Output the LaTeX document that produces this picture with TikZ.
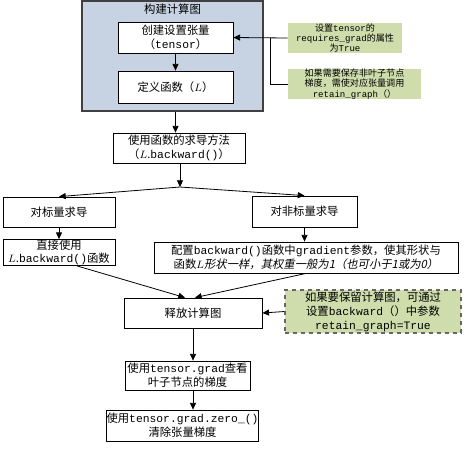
\documentclass[tikz,border=0pt]{standalone}
\usepackage{fontspec}
\setmainfont{Noto Sans CJK SC}
\setmonofont{Liberation Mono}
\newfontfamily\slantcjk[FakeSlant=0.2]{Noto Sans CJK SC}
\usetikzlibrary{arrows.meta, positioning}
\definecolor{groupblue}{RGB}{199,211,227}
\definecolor{notegreen}{RGB}{207,221,172}
\newcommand{\px}{0.75pt}
\newcommand{\code}[1]{\texttt{#1}}

\tikzset{
  stepbox/.style={draw, fill=white, line width=0.6pt, align=center, inner sep=0pt,
    minimum height=30*\px, font=\fontsize{8.5}{10.5}\selectfont},
  notebox/.style={fill=notegreen, align=center, inner sep=0pt, font=\fontsize{6.8}{7.6}\selectfont},
  arr/.style={-{Triangle[length=5pt,width=4.5pt]}, line width=0.6pt},
}

\begin{document}
\begin{tikzpicture}[x=\px, y=-\px]
  \useasboundingbox (0,0) rectangle (470,455);
  % group of the graph
  \node[draw=black!75, line width=0.9pt, fill=groupblue, minimum width=181*\px, minimum height=110*\px] (group) at (172.5,56) {};
  \node[font=\fontsize{8.5}{10}\selectfont] (grouptitle) at (172.5,9) {构建计算图};
  \node[stepbox, minimum width=115*\px, minimum height=31*\px] (create) at (175.5,37.5) {创建设置张量\\（\code{tensor}）};
  \node[stepbox, minimum width=115*\px, minimum height=32*\px] (deffn) at (175.5,87) {定义函数（$L$）};
  % notes
  \node[notebox, minimum width=114*\px, minimum height=30*\px] (note1) at (345,38) {设置\code{tensor}的\\\code{requires\_grad}的属性\\为\code{True}};
  \node[notebox, minimum width=133*\px, minimum height=30*\px] (note2) at (354.5,84) {如果需要保存非叶子节点\\梯度，需使对应张量调用\\\code{retain\_graph}（）};
  \coordinate (joint) at (270,38);
  % steps
  \node[stepbox, minimum width=132*\px] (method) at (179,148) {使用函数的求导方法\\（$L$.\code{backward()}）};
  \coordinate (split) at (180,187);
  \node[stepbox, minimum width=112*\px] (scalar) at (59,212) {对标量求导};
  \node[stepbox, minimum width=105*\px, minimum height=31*\px] (nonscalar) at (304.5,211.5) {对非标量求导};
  \node[stepbox, minimum width=112*\px, minimum height=26*\px, font=\fontsize{8.5}{9.4}\selectfont] (direct) at (59,252.5) {直接使用\\$L$.\code{backward()}函数};
  \node[stepbox, minimum width=304*\px, minimum height=31*\px] (config) at (306,257.5) {配置\code{backward()}函数中\code{gradient}参数，使其形状与\\函数{\slantcjk $L$形状一样，其权重一般为1（也可小于1或为0）}};
  \node[stepbox, minimum width=138*\px] (release) at (193,313) {释放计算图};
  \node[notebox, draw=black!60, dashed, line width=1pt, minimum width=176*\px, minimum height=43*\px,
    font=\fontsize{8.5}{10.5}\selectfont] (keepnote) at (373,311.5) {如果要保留计算图，可通过\\设置\code{backward}（）中参数\\\code{retain\_graph=True}};
  \node[stepbox, minimum width=125*\px, minimum height=29*\px] (viewgrad) at (187.5,375.5) {使用\code{tensor.grad}查看\\叶子节点的梯度};
  \node[stepbox, minimum width=149*\px, minimum height=31*\px] (zerograd) at (182.5,425.5) {使用\code{tensor.grad.zero\_()}\\清除张量梯度};
  % connectors
  \draw[arr] (create) -- (deffn);
  \draw[arr] (deffn |- group.south) -- (deffn |- method.north);
  \draw[arr] (note1.west) -- (create.east);
  \draw[line width=0.6pt] (note2.west) -| (joint);
  \draw[arr] (method.south -| split) -- (split);
  \draw[arr] (split) -- (scalar.north);
  \draw[arr] (split) -- (nonscalar.north);
  \draw[arr] (scalar) -- (direct);
  \draw[arr] (nonscalar.south) -- (nonscalar.south |- config.north);
  \draw[arr] ([xshift=18*\px]direct.south) -- ([xshift=-8*\px]release.north);
  \draw[arr] (config.south) -- ([xshift=2*\px]release.north);
  \draw[arr] (keepnote.west) -- (release.east);
  \draw[arr] (release.south) -- (release.south |- viewgrad.north);
  \draw[arr] (release.south |- viewgrad.south) -- (release.south |- zerograd.north);
\end{tikzpicture}
\end{document}
